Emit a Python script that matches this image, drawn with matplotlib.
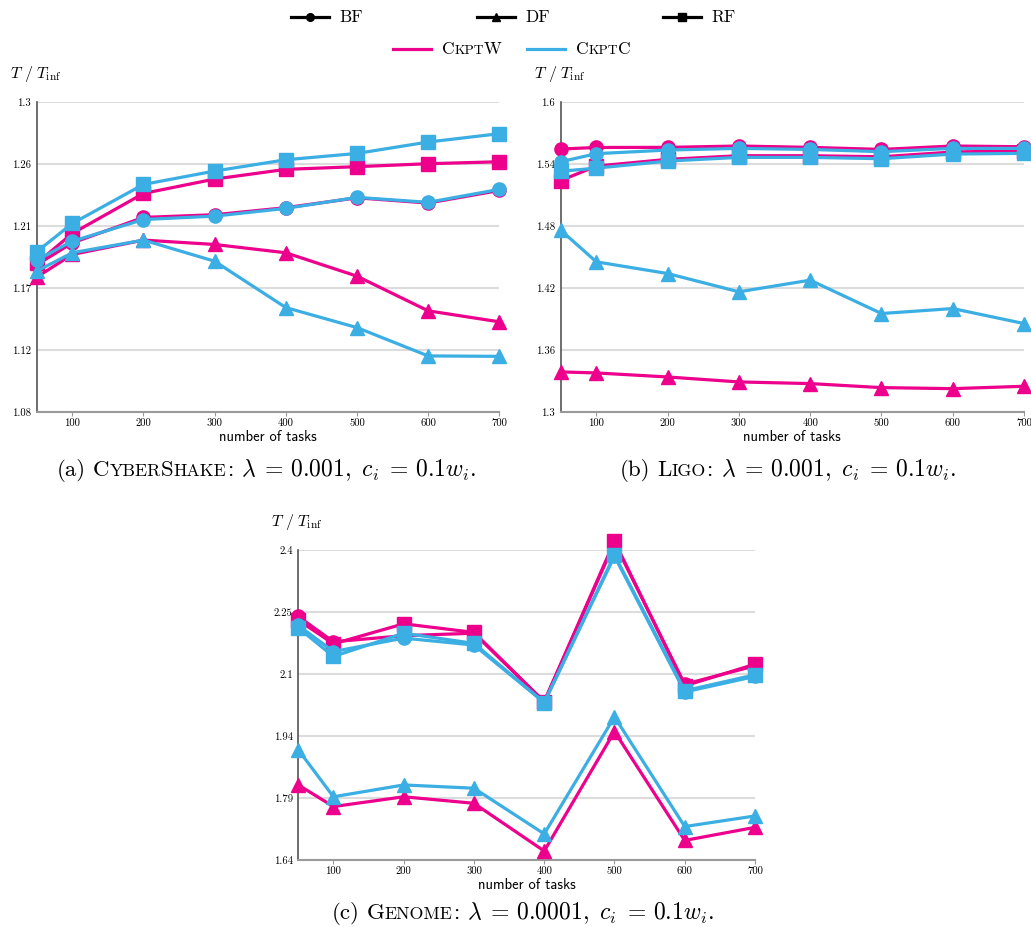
"""
Makespan ratio T / T_inf vs. number of tasks for the three workflow families
(CyberShake, Ligo, Genome), comparing CkptW and CkptC under the BF / DF / RF
linearizations.
"""
import matplotlib
matplotlib.use("Agg")
import matplotlib.pyplot as plt
from matplotlib import font_manager, ft2font
from matplotlib.lines import Line2D
from matplotlib.transforms import offset_copy

plt.rcParams["mathtext.fontset"] = "cm"
plt.rcParams["font.family"] = ["cmr10", "DejaVu Serif"]
plt.rcParams["axes.formatter.use_mathtext"] = True
plt.rcParams["axes.unicode_minus"] = False

W_PX, H_PX = 1031, 927
PINK = "#EC008C"
BLUE = "#3BAEE3"

x_tasks = [50, 100, 200, 300, 400, 500, 600, 700]
x_ticks = [100, 200, 300, 400, 500, 600, 700]

# CyberShake, lambda = 0.001
cs_bf_w = [1.1845, 1.2000, 1.2181, 1.2200, 1.2250, 1.2320, 1.2283, 1.2372]
cs_bf_c = [1.1878, 1.2012, 1.2166, 1.2190, 1.2245, 1.2323, 1.2288, 1.2380]
cs_df_w = [1.1757, 1.1918, 1.2020, 1.1989, 1.1930, 1.1764, 1.1518, 1.1440]
cs_df_c = [1.1800, 1.1930, 1.2020, 1.1870, 1.1541, 1.1399, 1.1198, 1.1195]
cs_rf_w = [1.1856, 1.2067, 1.2351, 1.2453, 1.2522, 1.2541, 1.2562, 1.2576]
cs_rf_c = [1.1937, 1.2138, 1.2415, 1.2510, 1.2590, 1.2635, 1.2716, 1.2775]
cs_ylim = [1.08, 1.3]

# Ligo, lambda = 0.001
lg_bf_w = [1.5545, 1.5560, 1.5561, 1.5574, 1.5561, 1.5541, 1.5574, 1.5567]
lg_bf_c = [1.5422, 1.5500, 1.5535, 1.5551, 1.5541, 1.5519, 1.5551, 1.5551]
lg_df_w = [1.3388, 1.3378, 1.3339, 1.3291, 1.3275, 1.3236, 1.3226, 1.3249]
lg_df_c = [1.4760, 1.4453, 1.4340, 1.4163, 1.4276, 1.3953, 1.4001, 1.3856]
lg_rf_w = [1.5240, 1.5380, 1.5445, 1.5480, 1.5480, 1.5470, 1.5516, 1.5529]
lg_rf_c = [1.5330, 1.5360, 1.5428, 1.5464, 1.5464, 1.5451, 1.5496, 1.5503]
lg_ylim = [1.3, 1.6]

# Genome, lambda = 0.0001
gn_bf_w = [2.237, 2.175, 2.190, 2.196, 2.028, 2.418, 2.071, 2.116]
gn_bf_c = [2.215, 2.151, 2.184, 2.167, 2.026, 2.385, 2.052, 2.090]
gn_df_w = [1.824, 1.771, 1.795, 1.779, 1.662, 1.955, 1.688, 1.720]
gn_df_c = [1.910, 1.795, 1.824, 1.816, 1.704, 1.991, 1.722, 1.748]
gn_rf_w = [2.228, 2.170, 2.219, 2.198, 2.028, 2.422, 2.067, 2.120]
gn_rf_c = [2.209, 2.139, 2.196, 2.171, 2.026, 2.388, 2.055, 2.094]
gn_ylim = [1.64, 2.4]

n_yticks = 6

CMR_PATH = font_manager.findfont("cmr10")


def advance_px(text, size):
    """Pen advance of a cmr10 string at 100 dpi, in pixels."""
    font = ft2font.FT2Font(CMR_PATH)
    font.set_size(size, 100)
    return sum(font.load_char(ord(c)).linearHoriAdvance for c in text) / 65536.0


def small_caps(word, size, gap=0, ratio=0.78):
    """Split a word into runs: capitals at full size, lower case as small capitals."""
    runs = []
    for ch in word:
        big = ch.isupper() or not ch.isalpha()
        s = size if big else size * ratio
        if runs and runs[-1][1] == s:
            runs[-1] = (runs[-1][0] + ch.upper(), s, "cmr10", runs[-1][3])
        else:
            runs.append((ch.upper(), s, "cmr10", gap if not runs else 0))
    return runs


def draw_runs(fig, x_px, y_px, runs):
    """Draw text runs one after another on a common baseline (pixels, top origin)."""
    renderer = fig.canvas.get_renderer()
    x = x_px
    for text, size, family, gap in runs:
        x += gap
        kw = {"family": family} if family else {}
        t = fig.text(x / W_PX, 1 - y_px / H_PX, text, fontsize=size,
                     ha="left", va="baseline", **kw)
        if family == "cmr10":
            x += advance_px(text, size)
        else:
            x += t.get_window_extent(renderer).width
    return x


def tick_label(v):
    return f"{v:.2f}".rstrip("0").rstrip(".")


def draw_panel(ax, ylim, bf_w, df_w, rf_w, bf_c, df_c, rf_c):
    for color, series in ((PINK, (bf_w, df_w, rf_w)), (BLUE, (bf_c, df_c, rf_c))):
        for ys, marker in zip(series, ("o", "^", "s")):
            ax.plot(x_tasks, ys, color=color, lw=2.3, marker=marker, ms=9.5,
                    mec=color, mfc=color, clip_on=False, zorder=3)
    ax.set_xlim(50, 700)
    ax.set_ylim(*ylim)
    step = (ylim[1] - ylim[0]) / (n_yticks - 1)
    yt = [ylim[0] + i * step for i in range(n_yticks)]
    ax.set_yticks(yt)
    ax.set_yticklabels([tick_label(v) for v in yt])
    ax.set_xticks(x_ticks)
    ax.set_xticklabels([str(v) for v in x_ticks])
    ax.set_axisbelow(True)
    ax.grid(axis="y", color="#dcdcdc", lw=1.5)
    for side in ("top", "right"):
        ax.spines[side].set_visible(False)
    ax.spines["left"].set_color("#555555")
    ax.spines["left"].set_linewidth(1.2)
    ax.spines["bottom"].set_color("#999999")
    ax.spines["bottom"].set_linewidth(1.5)
    ax.tick_params(axis="x", direction="out", length=3, color="#999999",
                   labelsize=7.7, pad=2)
    ax.tick_params(axis="y", length=0, labelsize=7.7, pad=4)
    ax.set_xlabel("number of tasks", family="cmss10", fontsize=10.5, labelpad=1)
    tr = offset_copy(ax.transAxes, fig=ax.figure, x=-27, y=28, units="dots")
    ax.text(0, 1, r"$T\ /\ T_{\rm inf}$", transform=tr, fontsize=11.5,
            ha="left", va="center")


fig = plt.figure(figsize=(W_PX / 100, H_PX / 100), dpi=100)

ax_a = fig.add_axes([36.7 / W_PX, 1 - 412 / H_PX, 462.6 / W_PX, 310 / H_PX])
ax_b = fig.add_axes([560.7 / W_PX, 1 - 412 / H_PX, 463.3 / W_PX, 310 / H_PX])
ax_c = fig.add_axes([298.3 / W_PX, 1 - 860 / H_PX, 456.7 / W_PX, 310 / H_PX])

draw_panel(ax_a, cs_ylim, cs_bf_w, cs_df_w, cs_rf_w, cs_bf_c, cs_df_c, cs_rf_c)
draw_panel(ax_b, lg_ylim, lg_bf_w, lg_df_w, lg_rf_w, lg_bf_c, lg_df_c, lg_rf_c)
draw_panel(ax_c, gn_ylim, gn_bf_w, gn_df_w, gn_rf_w, gn_bf_c, gn_df_c, gn_rf_c)

# Legend: marker shapes for the linearizations, colours for the strategies.
leg_size = 12.5
for x0, marker, label in ((291, "o", "BF"), (477, "^", "DF"), (663, "s", "RF")):
    fig.add_artist(Line2D([x0 / W_PX, (x0 + 38) / W_PX], [1 - 17 / H_PX] * 2,
                          transform=fig.transFigure, color="black", lw=2.3))
    fig.add_artist(Line2D([(x0 + 19) / W_PX], [1 - 17 / H_PX],
                          transform=fig.transFigure, color="black", marker=marker,
                          ms=5.5, lw=0))
    draw_runs(fig, x0 + 48, 22, [(label, leg_size, "cmr10", 0)])
for x0, color, label in ((393, PINK, "CkptW"), (527, BLUE, "CkptC")):
    fig.add_artist(Line2D([x0 / W_PX, (x0 + 38) / W_PX], [1 - 49 / H_PX] * 2,
                          transform=fig.transFigure, color=color, lw=2.3))
    draw_runs(fig, x0 + 49, 54, small_caps(label, leg_size))

# Sub-captions
cap = 16.5
cap_m = 17
cap_math = r"$\lambda\;=\,%s,\ c_i\;=\,0.1w_i.$"
draw_runs(fig, 57, 476, [("(a)", cap, "cmr10", 0)]
          + small_caps("CyberShake:", cap, gap=7)
          + [(cap_math % "0.001", cap_m, None, 8)])
draw_runs(fig, 620, 476, [("(b)", cap, "cmr10", 0)]
          + small_caps("Ligo:", cap, gap=7)
          + [(cap_math % "0.001", cap_m, None, 8)])
draw_runs(fig, 332, 919, [("(c)", cap, "cmr10", 0)]
          + small_caps("Genome:", cap, gap=7)
          + [(cap_math % "0.0001", cap_m, None, 8)])

fig.savefig("out.png", dpi=100)
